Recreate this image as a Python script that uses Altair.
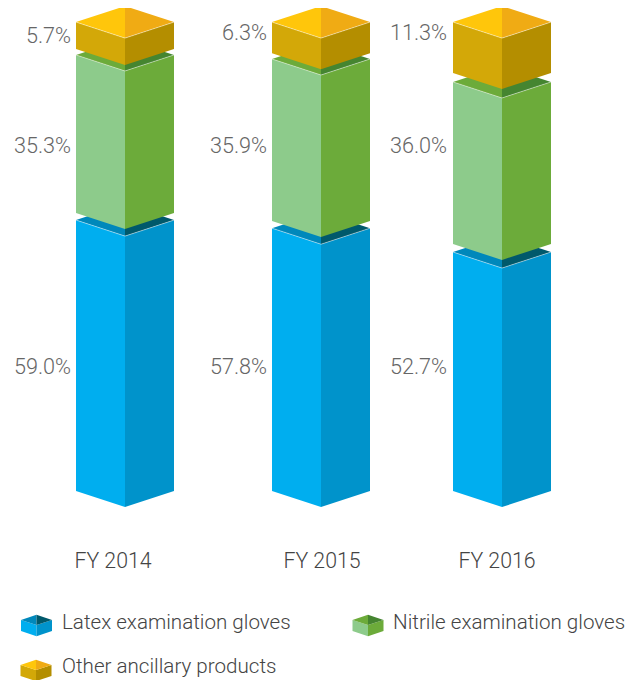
import altair as alt
import pandas as pd

W, H = 617, 672
FONT = "Roboto"

# Fiscal years and series
years = ["FY 2014", "FY 2015", "FY 2016"]
series = ["latex", "nitrile", "other"]
centers = [125, 321, 502]

# Stack levels as drawn (percentage-point units, includes the visual gaps)
latex_bottom = [0.0, 0.0, 0.0]
latex_top = [60.2, 58.4, 53.1]
nitrile_bottom = [61.8, 60.0, 54.9]
nitrile_top = [96.9, 96.0, 90.9]
other_bottom = [98.2, 97.3, 92.9]
other_top = [104.2, 104.2, 104.2]

labels_latex = ["59.0%", "57.8%", "52.7%"]
labels_nitrile = ["35.3%", "35.9%", "36.0%"]
labels_other = ["5.7%", "6.3%", "11.3%"]

HALF = 49
DEPTH = 3.56

COLORS = {
    "latex": dict(left="#00AEEF", right="#0093CB", topl="#0088BB", topr="#00596B"),
    "nitrile": dict(left="#8DCB8B", right="#6CAB3A", topl="#6CAB3A", topr="#458530"),
    "other": dict(left="#D3A808", right="#B48E00", topl="#FFC60B", topr="#F0AB14"),
}

X = alt.Scale(domain=[8, 8 + W], range=[0, W], nice=False, zero=False)
Y = alt.Scale(domain=[(491 - 8 - H) / 4.5, (491 - 8) / 4.5], range=[H, 0], nice=False, zero=False)


def faces(cx, half, depth, lo, hi):
    """Four faces of a prism; each is an area between y and y2 across x."""
    return {
        "left": [(cx - half, lo, hi), (cx, lo - depth, hi - depth)],
        "right": [(cx, lo - depth, hi - depth), (cx + half, lo, hi)],
        "topl": [(cx - half, hi, hi), (cx, hi - depth, hi + depth)],
        "topr": [(cx, hi - depth, hi + depth), (cx + half, hi, hi)],
    }


def layer_for(name, spans, half=HALF, depth=DEPTH, line=True):
    out = []
    rows = {k: [] for k in ("left", "right", "topl", "topr")}
    for i, (cx, lo, hi) in enumerate(spans):
        f = faces(cx, half, depth, lo, hi)
        for k, pts in f.items():
            for x, a, b in pts:
                rows[k].append(dict(bar=i, x=x, y=a, y2=b))
    for k in ("left", "right", "topl", "topr"):
        out.append(
            alt.Chart(pd.DataFrame(rows[k]))
            .mark_area(color=COLORS[name][k], interpolate="linear")
            .encode(
                x=alt.X("x:Q", scale=X, axis=None),
                y=alt.Y("y:Q", scale=Y, axis=None),
                y2="y2:Q",
                detail="bar:N",
            )
        )
    if line:
        e = []
        for i, (cx, lo, hi) in enumerate(spans):
            e += [
                dict(bar=i, o=0, x=cx - half, y=hi),
                dict(bar=i, o=1, x=cx, y=hi - depth),
                dict(bar=i, o=2, x=cx + half, y=hi),
            ]
        out.append(
            alt.Chart(pd.DataFrame(e))
            .mark_line(color="#ffffff", strokeWidth=0.8, opacity=0.55)
            .encode(
                x=alt.X("x:Q", scale=X, axis=None),
                y=alt.Y("y:Q", scale=Y, axis=None),
                detail="bar:N",
                order="o:Q",
            )
        )
    return out


layers = []
layers += layer_for("latex", list(zip(centers, latex_bottom, latex_top)))
layers += layer_for("nitrile", list(zip(centers, nitrile_bottom, nitrile_top)))
layers += layer_for("other", list(zip(centers, other_bottom, other_top)))

# Legend swatches: small prisms drawn from the same helper
ICON_H = 2.45
layers += layer_for("latex", [(36.5, -31.1, -31.1 + ICON_H)], 15.5, 1.15, False)
layers += layer_for("nitrile", [(368, -31.1, -31.1 + ICON_H)], 15.5, 1.15, False)
layers += layer_for("other", [(36, -41.1, -41.1 + ICON_H)], 15.5, 1.15, False)

# Value labels
px = [71, 267, 447]
rows = []
for i in range(3):
    rows.append(dict(x=px[i], y=(491 - 374) / 4.5, t=labels_latex[i]))
    rows.append(dict(x=px[i], y=(491 - 153) / 4.5, t=labels_nitrile[i]))
ty = [43, 40, 40]
for i in range(3):
    rows.append(dict(x=px[i], y=(491 - ty[i]) / 4.5, t=labels_other[i]))
layers.append(
    alt.Chart(pd.DataFrame(rows))
    .mark_text(align="right", baseline="alphabetic", font=FONT, fontWeight=300, fontSize=21.6, color="#666666")
    .encode(x=alt.X("x:Q", scale=X, axis=None), y=alt.Y("y:Q", scale=Y, axis=None), text="t:N")
)

# Year labels
cat_x = [113, 322, 497]
layers.append(
    alt.Chart(pd.DataFrame(dict(x=cat_x, y=[(491 - 568) / 4.5] * 3, t=years)))
    .mark_text(align="center", baseline="alphabetic", font=FONT, fontWeight=300, fontSize=21.3, color="#444444")
    .encode(x=alt.X("x:Q", scale=X, axis=None), y=alt.Y("y:Q", scale=Y, axis=None), text="t:N")
)

# Legend labels
legend_text = ["Latex examination gloves", "Nitrile examination gloves", "Other ancillary products"]
legend_x = [62, 393, 62]
legend_y = [629, 629, 673]
layers.append(
    alt.Chart(pd.DataFrame(dict(x=legend_x, y=[(491 - v) / 4.5 for v in legend_y], t=legend_text)))
    .mark_text(align="left", baseline="alphabetic", font=FONT, fontWeight=300, fontSize=20.6, color="#444444")
    .encode(x=alt.X("x:Q", scale=X, axis=None), y=alt.Y("y:Q", scale=Y, axis=None), text="t:N")
)

chart = (
    alt.layer(*layers)
    .properties(width=W, height=H, padding=0, autosize=alt.AutoSizeParams(type="none"))
    .configure_view(stroke=None)
)
chart.save("out.html", embed_options={"renderer": "svg", "actions": False})
